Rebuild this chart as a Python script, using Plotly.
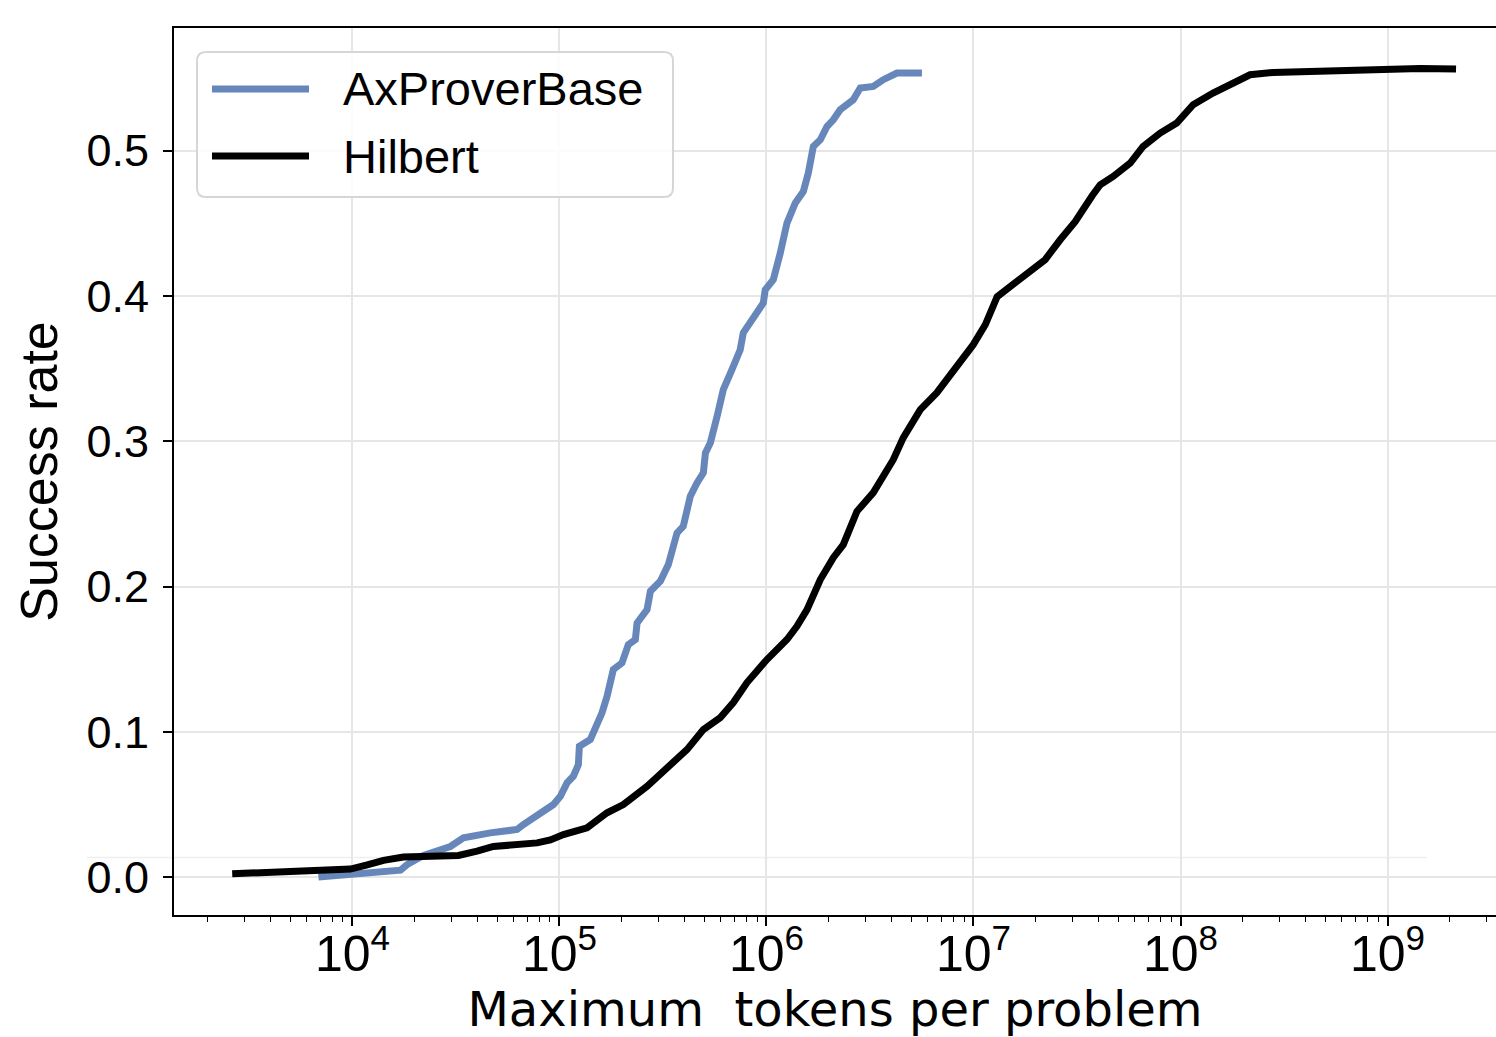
import plotly.graph_objects as go

# ---- data ----
hilbert_tokens = [2625, 4018, 7006, 9780, 11780, 14120, 17620, 25700, 32500, 40000,
                  47900, 78000, 90400, 104500, 135900, 169800, 203600, 265000, 354800, 413000,
                  495500, 598400, 691800, 805400, 1005000, 1256000, 1403000, 1570000, 1820000, 2103000,
                  2350000, 2737000, 3281000, 3666000, 4096000, 4581000, 5534000, 6655000, 8625000, 9970000,
                  11400000, 13010000, 15890000, 22180000, 26230000, 30980000, 37430000, 40930000, 47300000, 57150000,
                  65950000, 79760000, 95930000, 115100000, 143600000, 179400000, 216700000, 279900000, 407400000, 736200000,
                  1064000000, 1436000000, 2143000000]
hilbert_success = [0.0022, 0.0033, 0.0040, 0.0055, 0.0083, 0.0115, 0.0138, 0.0145, 0.0148, 0.0178,
                   0.0210, 0.0235, 0.0255, 0.0292, 0.0339, 0.0442, 0.0499, 0.0625, 0.0788, 0.0877,
                   0.1015, 0.1098, 0.1201, 0.1339, 0.1497, 0.1635, 0.1726, 0.1841, 0.2048, 0.2199,
                   0.2288, 0.2518, 0.2646, 0.2750, 0.2873, 0.3025, 0.3218, 0.3335, 0.3541, 0.3665,
                   0.3802, 0.3995, 0.4091, 0.4250, 0.4387, 0.4511, 0.4690, 0.4766, 0.4823, 0.4915,
                   0.5030, 0.5122, 0.5191, 0.5317, 0.5397, 0.5466, 0.5523, 0.5539, 0.5546, 0.5546,
                   0.5562, 0.5566, 0.5562]

axprover_tokens = [6850, 10530, 14120, 17070, 18380, 22020, 29710, 34360, 46360, 62370,
                   66950, 80910, 93530, 101000, 108800, 116700, 123400, 124800, 140900, 160500,
                   169800, 182000, 200500, 215100, 232600, 237100, 265000, 274900, 307100, 335700,
                   369800, 396300, 428600, 461600, 495500, 507000, 535800, 577300, 618600, 681000,
                   746500, 772600, 862900, 965500, 986300, 1079000, 1166000, 1256000, 1378000, 1507000,
                   1593000, 1684000, 1820000, 1960000, 2103000, 2270000, 2624000, 2837000, 3281000, 3666000,
                   4266000, 5636000]
axprover_success = [0.0000, 0.0017, 0.0029, 0.0047, 0.0086, 0.0148, 0.0210, 0.0270, 0.0304, 0.0327,
                    0.0361, 0.0442, 0.0499, 0.0556, 0.0648, 0.0694, 0.0774, 0.0900, 0.0946, 0.1130,
                    0.1244, 0.1428, 0.1474, 0.1600, 0.1635, 0.1749, 0.1841, 0.1967, 0.2036, 0.2151,
                    0.2369, 0.2414, 0.2621, 0.2713, 0.2782, 0.2919, 0.2990, 0.3171, 0.3355, 0.3493,
                    0.3630, 0.3747, 0.3860, 0.3952, 0.4043, 0.4112, 0.4296, 0.4502, 0.4640, 0.4720,
                    0.4847, 0.5030, 0.5076, 0.5167, 0.5213, 0.5282, 0.5351, 0.5432, 0.5443, 0.5489,
                    0.5535, 0.5535]

series_names = ["AxProverBase", "Hilbert"]
series_colors = ["#6787bb", "#000000"]
y_ticks = [0.0, 0.1, 0.2, 0.3, 0.4, 0.5]

FONT = "Liberation Sans, Arial, Helvetica, sans-serif"
WIDE_FONT = "DejaVu Sans, Liberation Sans, sans-serif"

fig = go.Figure()
fig.add_trace(go.Scatter(x=axprover_tokens, y=axprover_success, mode="lines",
                         name=series_names[0], line=dict(color=series_colors[0], width=7),
                         showlegend=False))
fig.add_trace(go.Scatter(x=hilbert_tokens, y=hilbert_success, mode="lines",
                         name=series_names[1], line=dict(color=series_colors[1], width=7),
                         showlegend=False))

# plot area in pixels: x 174..1496, y 28..915.5
W, H = 1496, 1037
L, R, T, B = 174, 0, 28, 122
pw, ph = W - L - R, H - T - B

def px(xp):
    return (xp - L) / pw

def py(yp):
    return 1 - (yp - T) / ph

# faint light line near the bottom
fig.add_shape(type="line", xref="paper", yref="y", x0=px(87), x1=px(1427), y0=0.0134, y1=0.0134,
              line=dict(color="#efefef", width=1.5), layer="below")

# legend box (rounded)
x0, x1, y0, y1 = px(197), px(673), py(197), py(52)
rx, ry = 9 / pw, 9 / ph
path = (f"M {x0+rx},{y1} L {x1-rx},{y1} Q {x1},{y1} {x1},{y1-ry} "
        f"L {x1},{y0+ry} Q {x1},{y0} {x1-rx},{y0} L {x0+rx},{y0} "
        f"Q {x0},{y0} {x0},{y0+ry} L {x0},{y1-ry} Q {x0},{y1} {x0+rx},{y1} Z")
fig.add_shape(type="path", xref="paper", yref="paper", path=path,
              line=dict(color="#d6d6d6", width=2), fillcolor="rgba(255,255,255,0.85)", layer="above")
for i, (name, col) in enumerate(zip(series_names, series_colors)):
    yc = py(89 + i * 67)
    fig.add_shape(type="line", xref="paper", yref="paper", x0=px(212), x1=px(309), y0=yc, y1=yc,
                  line=dict(color=col, width=7), layer="above")
    fig.add_annotation(xref="paper", yref="paper", x=px(341), y=yc, text=name, showarrow=False,
                       xanchor="left", yanchor="middle", font=dict(family=FONT, size=47, color="black"))

fig.update_layout(
    width=W, height=H,
    margin=dict(l=L, r=R, t=T, b=B),
    paper_bgcolor="white", plot_bgcolor="white",
    font=dict(family=FONT, color="black"),
)
fig.update_xaxes(
    type="log", range=[3.138, 9.524], dtick=1, exponentformat="power", showexponent="all",
    showline=True, linecolor="black", linewidth=2, mirror=True,
    ticks="outside", ticklen=9, tickwidth=1.5, tickcolor="black",
    tickfont=dict(family=FONT, size=40, color="black"), ticklabelstandoff=-13,
    showgrid=True, gridcolor="#e6e6e6", gridwidth=1.5,
    minor=dict(ticks="outside", ticklen=5, tickwidth=1.2, tickcolor="black", showgrid=False, dtick="D1"),
    title=dict(text="Maximum  tokens per problem", font=dict(family=WIDE_FONT, size=48, color="black"), standoff=18),
    zeroline=False,
)
fig.update_yaxes(
    range=[-0.02615, 0.5845], tickvals=y_ticks, ticktext=[f"{v:.1f}" for v in y_ticks],
    showline=True, linecolor="black", linewidth=2, mirror=False,
    ticks="outside", ticklen=9, tickwidth=1.5, tickcolor="black",
    tickfont=dict(family=FONT, size=45, color="black"), ticklabelstandoff=5,
    showgrid=True, gridcolor="#e6e6e6", gridwidth=1.5,
    title=dict(text="Success rate", font=dict(family=FONT, size=52, color="black"), standoff=12),
    zeroline=False,
)

fig.write_html("out.html", config={"displayModeBar": False},
               post_script="document.body.style.margin='0';document.body.style.overflow='hidden';")
